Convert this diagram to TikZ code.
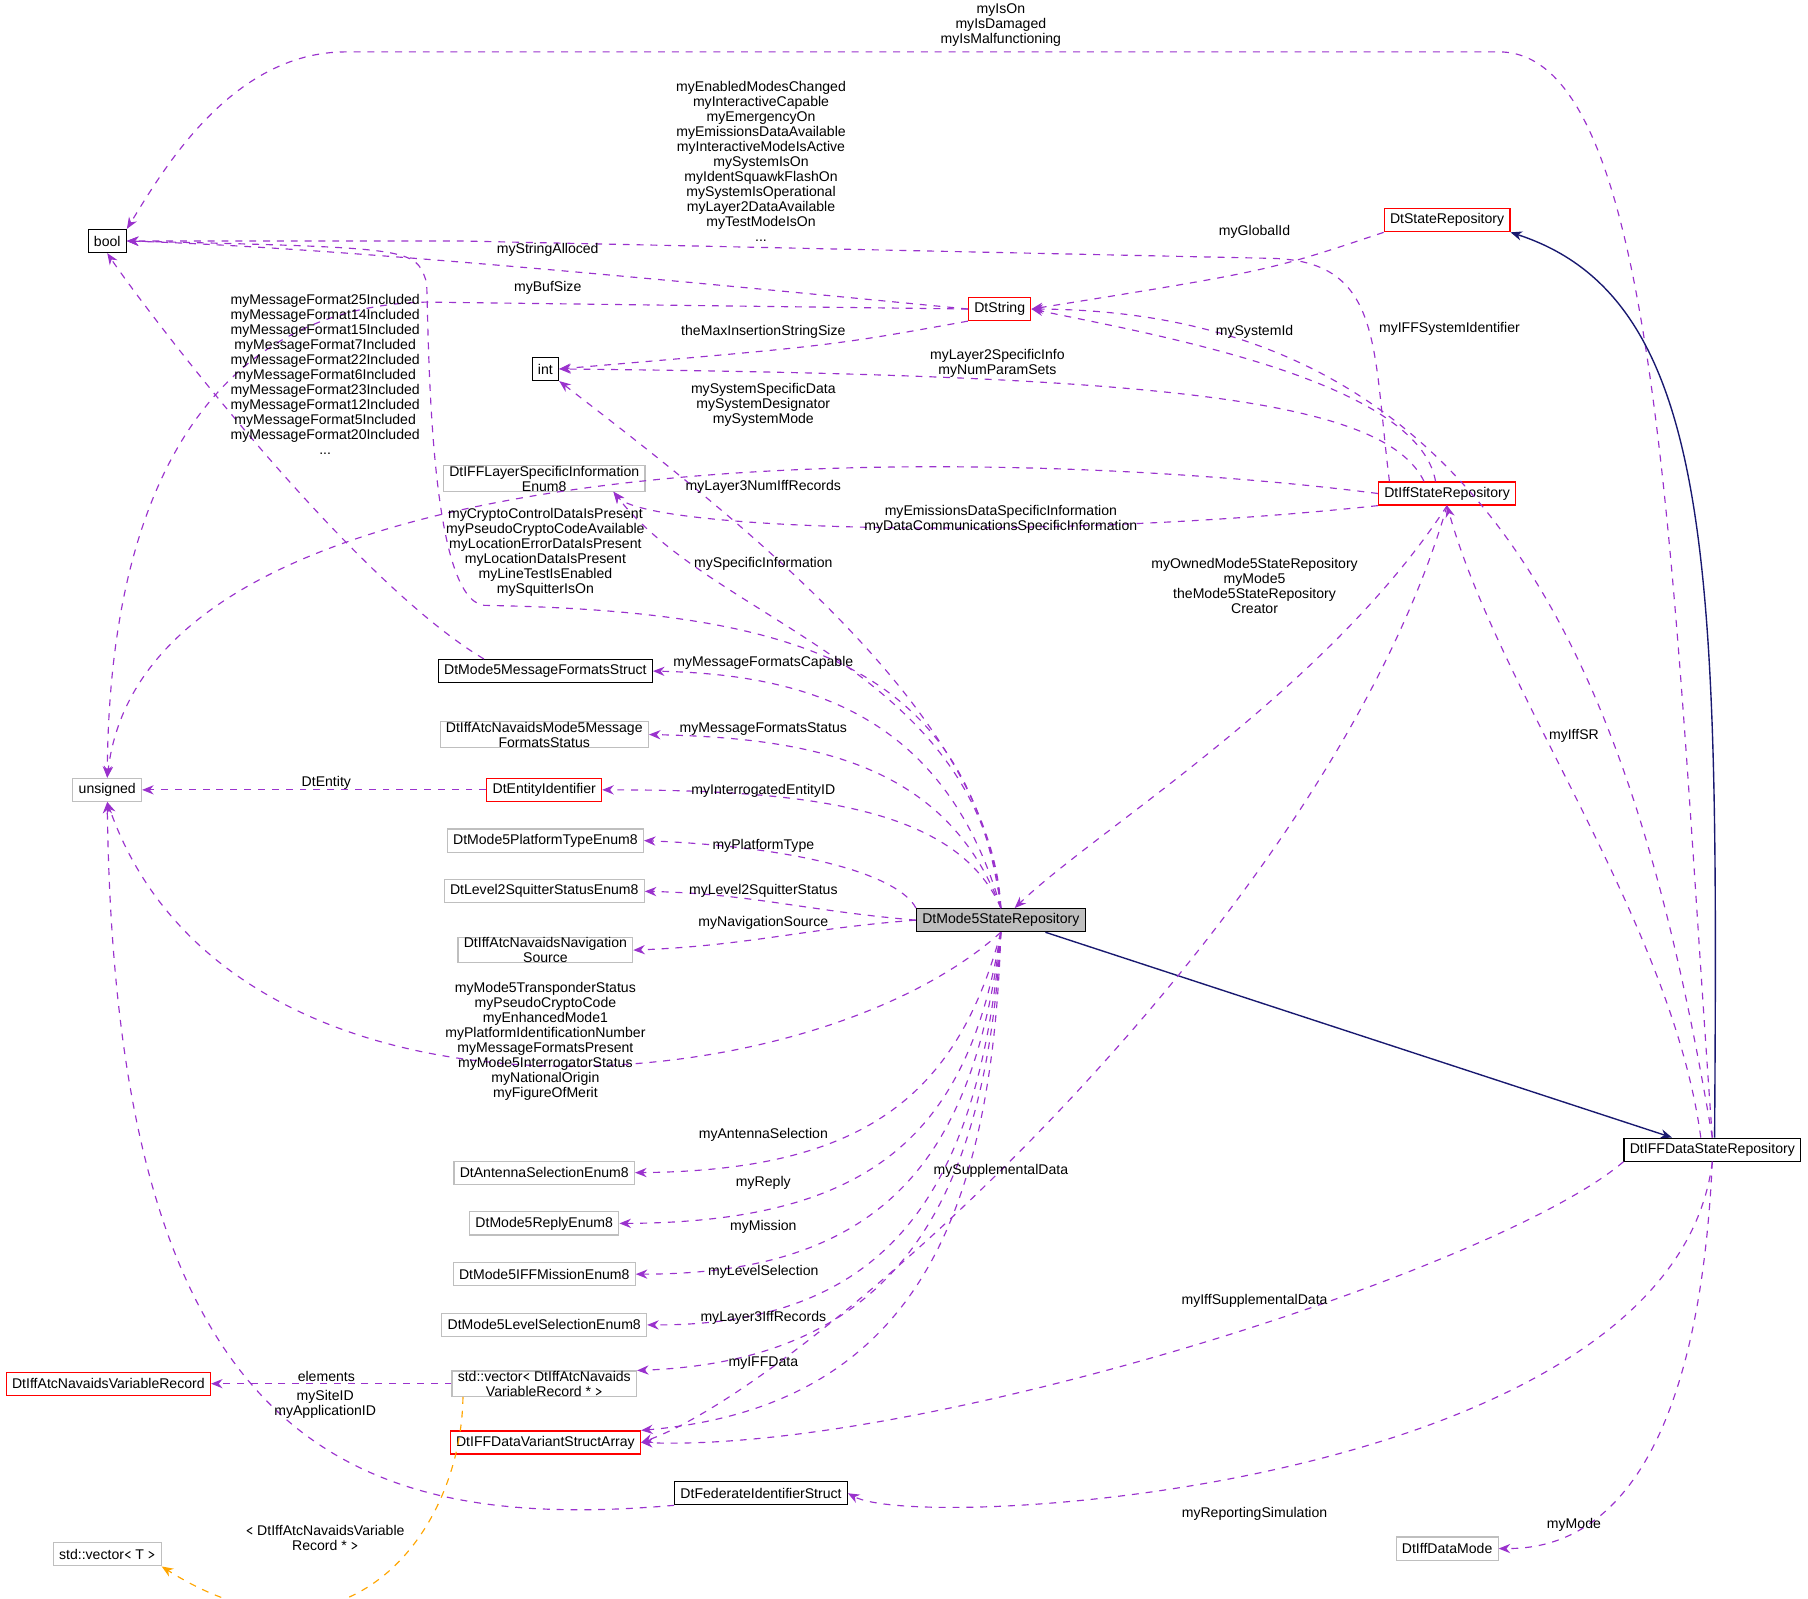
\documentclass[tikz,border=0pt]{standalone}
\usepackage{fontspec}
\setmainfont{Liberation Sans}
\usetikzlibrary{arrows.meta,calc}
\definecolor{ep}{RGB}{154,50,205}
\definecolor{nv}{RGB}{25,25,112}
\definecolor{og}{RGB}{255,165,0}
\definecolor{gb}{RGB}{191,191,191}
\begin{document}
\begin{tikzpicture}[x=0.5pt,y=-0.5pt,
 font=\fontsize{6.1}{6.5}\selectfont,
 bx/.style={draw=black,fill=white,inner xsep=2.5pt,inner ysep=0pt,minimum height=10pt,align=center,line width=0.5pt},
 gr/.style={bx,draw=gb},
 rd/.style={bx,draw=red},
 e/.style={draw=ep,dashed,line width=0.5pt,-{Stealth[length=5pt,width=4pt]}},
 inh/.style={draw=nv,line width=0.6pt,-{Stealth[length=5pt,width=4pt]}},
 o/.style={draw=og,dashed,line width=0.5pt,-{Stealth[length=5pt,width=4pt]}},
 lb/.style={align=center,inner sep=0pt}]
\useasboundingbox (0,0) rectangle (1568,1386);
% nodes
\node[bx] (bool) at (93,209) {bool};
\node[bx] (int) at (473,320) {int};
\node[gr] (uns) at (93,685) {unsigned};
\node[rd] (dsr) at (1255,191) {DtStateRepository};
\node[rd] (ds) at (867,268) {DtString};
\node[gr] (lay) at (472,415) {DtIFFLayerSpecificInformation\\Enum8};
\node[rd] (ifs) at (1255,428) {DtIffStateRepository};
\node[bx] (mfs) at (473,582) {DtMode5MessageFormatsStruct};
\node[gr] (mfst) at (472,637) {DtIffAtcNavaidsMode5Message\\FormatsStatus};
\node[rd] (ent) at (472,685) {DtEntityIdentifier};
\node[gr] (pt) at (473,729) {DtMode5PlatformTypeEnum8};
\node[gr] (l2) at (472,773) {DtLevel2SquitterStatusEnum8};
\node[bx,fill=gb] (m5) at (868,798) {DtMode5StateRepository};
\node[gr] (nav) at (473,824) {DtIffAtcNavaidsNavigation\\Source};
\node[bx] (ifd) at (1485,997) {DtIFFDataStateRepository};
\node[gr] (ant) at (472,1017) {DtAntennaSelectionEnum8};
\node[gr] (rep) at (472,1061) {DtMode5ReplyEnum8};
\node[gr] (mis) at (472,1105) {DtMode5IFFMissionEnum8};
\node[gr] (lvl) at (472,1149) {DtMode5LevelSelectionEnum8};
\node[rd] (vr) at (94,1200) {DtIffAtcNavaidsVariableRecord};
\node[gr] (vec) at (472,1200) {std::vector\texttt{<} DtIffAtcNavaids\\VariableRecord * \texttt{>}};
\node[rd] (vsa) at (473,1251) {DtIFFDataVariantStructArray};
\node[bx] (fed) at (660,1295) {DtFederateIdentifierStruct};
\node[gr] (vt) at (93,1348) {std::vector\texttt{<} T \texttt{>}};
\node[gr] (dm) at (1255,1343) {DtIffDataMode};
% edges
\draw[e] (ifd.north) .. controls (1450,500) and (1440,45) .. (1300,45) -- (300,45) .. controls (200,45) and (140,150) .. (bool.north east);
\draw[inh] ($(ifd.north)+(2,0)$) .. controls (1490,500) and (1490,260) .. (dsr.south east);
\draw[inh] ($(m5.south east)+(-35,0)$) -- ($(ifd.north)+(-35,0)$);
\draw[e] (dsr.south west) .. controls (1100,235) .. (ds.east);
\draw[e] ($(ifs.north)+(-50,0)$) .. controls (1190,300) and (1200,225) .. (1100,224) -- (400,209) -- (bool.east);
\draw[e] (ds.west) .. controls (600,245) and (300,215) .. (bool.east);
\draw[e] (ds.west) -- (370,262) .. controls (200,265) and (95,400) .. (uns.north);
\draw[e] (ds.south west) .. controls (720,300) .. (int.east);
\draw[e] ($(ifs.north)+(-10,0)$) .. controls (1230,330) and (1000,290) .. (ds.east);
\draw[e] (ifd.north) .. controls (1420,600) and (1300,270) .. (ds.east);
\draw[e] ($(ifs.north)+(-20,0)$) .. controls (1200,345) and (1000,325) .. (int.east);
\draw[e] (ifs.west) .. controls (900,390) and (130,360) .. (uns.north);
\draw[e] (ifs.south west) .. controls (900,470) and (560,460) .. ($(lay.south)+(60,0)$);
\draw[e] (m5.north) .. controls (860,620) and (640,450) .. ($(int.south)+(12,0)$);
\draw[e] (m5.north) .. controls (850,580) and (620,540) .. ($(lay.south)+(60,0)$);
\draw[e] (m5.north) .. controls (840,580) and (700,530) .. (420,525) .. controls (372,520) and (372,300) .. (370,245) .. controls (360,215) .. (bool.east);
\draw[e] ($(mfs.north west)+(40,0)$) .. controls (300,500) and (120,260) .. (bool.south);
\draw[e] (m5.north) .. controls (820,620) and (700,585) .. (mfs.east);
\draw[e] (m5.north) .. controls (820,660) and (700,640) .. (mfst.east);
\draw[e] (m5.north) .. controls (830,700) and (700,685) .. (ent.east);
\draw[e] (ent.west) -- (uns.east);
\draw[e] (m5.north west) .. controls (780,760) and (700,735) .. (pt.east);
\draw[e] (m5.west) .. controls (700,790) and (650,775) .. (l2.east);
\draw[e] (m5.west) .. controls (700,805) and (650,820) .. (nav.east);
\draw[e] (m5.south) .. controls (700,960) and (200,1000) .. (uns.south);
\draw[e] (m5.south) .. controls (830,950) and (750,1015) .. (ant.east);
\draw[e] (m5.south) .. controls (840,980) and (760,1060) .. (rep.east);
\draw[e] (m5.south) .. controls (845,1000) and (770,1105) .. (mis.east);
\draw[e] (m5.south) .. controls (850,1020) and (780,1150) .. (lvl.east);
\draw[e] (m5.south) .. controls (855,1040) and (780,1180) .. (vec.north east);
\draw[e] (m5.south) .. controls (860,1060) and (790,1220) .. (vsa.north east);
\draw[e] (ifs.south) .. controls (1150,800) and (700,1200) .. (vsa.east);
\draw[e] (ifd.south west) .. controls (1300,1100) and (800,1260) .. (vsa.east);
\draw[e] (ifs.south) .. controls (1150,600) and (950,720) .. ($(m5.north)+(12,0)$);
\draw[e] ($(ifd.north)+(-10,0)$) .. controls (1450,800) and (1300,600) .. (ifs.south);
\draw[e] (vec.west) -- (vr.east);
\draw[e] (fed.south west) .. controls (300,1330) and (100,1250) .. (uns.south);
\draw[e] (ifd.south) .. controls (1450,1290) and (800,1330) .. (fed.east);
\draw[e] (ifd.south) .. controls (1470,1330) and (1350,1343) .. (dm.east);
\draw[o] ($(vec.south west)+(10,0)$) .. controls (400,1330) and (300,1460) .. (vt.south east);
% labels
\node[lb] (l1) at (868,22) {myIsOn\\myIsDamaged\\myIsMalfunctioning};
\node[lb] (l4) at (1088,201) {myGlobalId};
\node[lb] (l5) at (660,140) {myEnabledModesChanged\\myInteractiveCapable\\myEmergencyOn\\myEmissionsDataAvailable\\myInteractiveModeIsActive\\mySystemIsOn\\myIdentSquawkFlashOn\\mySystemIsOperational\\myLayer2DataAvailable\\myTestModeIsOn\\...};
\node[lb] (l6) at (475,217) {myStringAlloced};
\node[lb] (l7) at (475,250) {myBufSize};
\node[lb] (l8) at (662,288) {theMaxInsertionStringSize};
\node[lb] (l9) at (1088,288) {mySystemId};
\node[lb] (l10) at (1257,285) {myIFFSystemIdentifier};
\node[lb] (l11) at (865,315) {myLayer2SpecificInfo\\myNumParamSets};
\node[lb] (l12) at (662,351) {mySystemSpecificData\\mySystemDesignator\\mySystemMode};
\node[lb] (l13) at (868,450) {myEmissionsDataSpecificInformation\\myDataCommunicationsSpecificInformation};
\node[lb] (l14) at (662,422) {myLayer3NumIffRecords};
\node[lb] (l15) at (662,489) {mySpecificInformation};
\node[lb] (l16) at (473,479) {myCryptoControlDataIsPresent\\myPseudoCryptoCodeAvailable\\myLocationErrorDataIsPresent\\myLocationDataIsPresent\\myLineTestIsEnabled\\mySquitterIsOn};
\node[lb] (l17) at (282,325) {myMessageFormat25Included\\myMessageFormat14Included\\myMessageFormat15Included\\myMessageFormat7Included\\myMessageFormat22Included\\myMessageFormat6Included\\myMessageFormat23Included\\myMessageFormat12Included\\myMessageFormat5Included\\myMessageFormat20Included\\...};
\node[lb] (l18) at (662,575) {myMessageFormatsCapable};
\node[lb] (l19) at (662,632) {myMessageFormatsStatus};
\node[lb] (l20) at (662,686) {myInterrogatedEntityID};
\node[lb] (l21) at (283,679) {DtEntity};
\node[lb] (l22) at (662,734) {myPlatformType};
\node[lb] (l23) at (662,773) {myLevel2SquitterStatus};
\node[lb] (l24) at (662,800) {myNavigationSource};
\node[lb] (l25) at (473,903) {myMode5TransponderStatus\\myPseudoCryptoCode\\myEnhancedMode1\\myPlatformIdentificationNumber\\myMessageFormatsPresent\\myMode5InterrogatorStatus\\myNationalOrigin\\myFigureOfMerit};
\node[lb] (l26) at (662,984) {myAntennaSelection};
\node[lb] (l27) at (662,1026) {myReply};
\node[lb] (l28) at (662,1064) {myMission};
\node[lb] (l29) at (662,1103) {myLevelSelection};
\node[lb] (l30) at (662,1143) {myLayer3IffRecords};
\node[lb] (l31) at (662,1182) {myIFFData};
\node[lb] (l32) at (868,1015) {mySupplementalData};
\node[lb] (l33) at (1088,1128) {myIffSupplementalData};
\node[lb] (l34) at (1088,508) {myOwnedMode5StateRepository\\myMode5\\theMode5StateRepository\\Creator};
\node[lb] (l35) at (1365,638) {myIffSR};
\node[lb] (l36) at (283,1194) {elements};
\node[lb] (l37) at (282,1218) {mySiteID\\myApplicationID};
\node[lb] (l38) at (1088,1313) {myReportingSimulation};
\node[lb] (l39) at (1365,1322) {myMode};
\node[lb] (l40) at (282,1334) {\texttt{<} DtIffAtcNavaidsVariable\\Record * \texttt{>}};
\end{tikzpicture}
\end{document}
